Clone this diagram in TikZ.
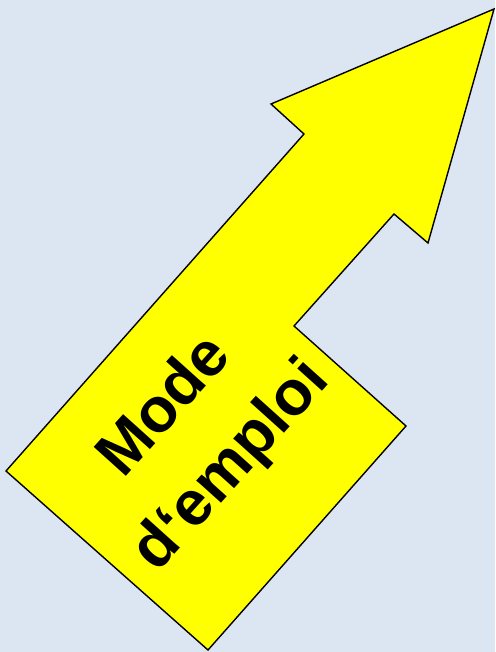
\documentclass[tikz,border=0pt]{standalone}
\usepackage{fontspec}
\setmainfont{Liberation Sans}
\definecolor{bgblue}{HTML}{DCE6F2}
\definecolor{arrowyellow}{HTML}{FFFF00}
\begin{document}
\begin{tikzpicture}[x=1pt,y=-1pt,
  arrowshape/.style={fill=arrowyellow,draw=black,line width=1.4pt,line join=miter},
  label/.style={font=\bfseries\fontsize{63}{89}\selectfont,align=center,rotate=48,inner sep=0pt}]
\fill[bgblue] (0,0) rectangle (495,652);
\useasboundingbox (0,0) rectangle (495,652);
\coordinate (p1) at (6,471);
\coordinate (p2) at (304,134);
\coordinate (p3) at (271,104);
\coordinate (p4) at (494,9);
\coordinate (p5) at (428,243);
\coordinate (p6) at (394,214);
\coordinate (p7) at (294,326);
\coordinate (p8) at (406,426);
\coordinate (p9) at (208,650);
\draw[arrowshape] (p1) -- (p2) -- (p3) -- (p4) -- (p5) -- (p6) -- (p7) -- (p8) -- (p9) -- cycle;
\node[label] (txt) at (199,437) {Mode\\d‘emploi};
\end{tikzpicture}
\end{document}
